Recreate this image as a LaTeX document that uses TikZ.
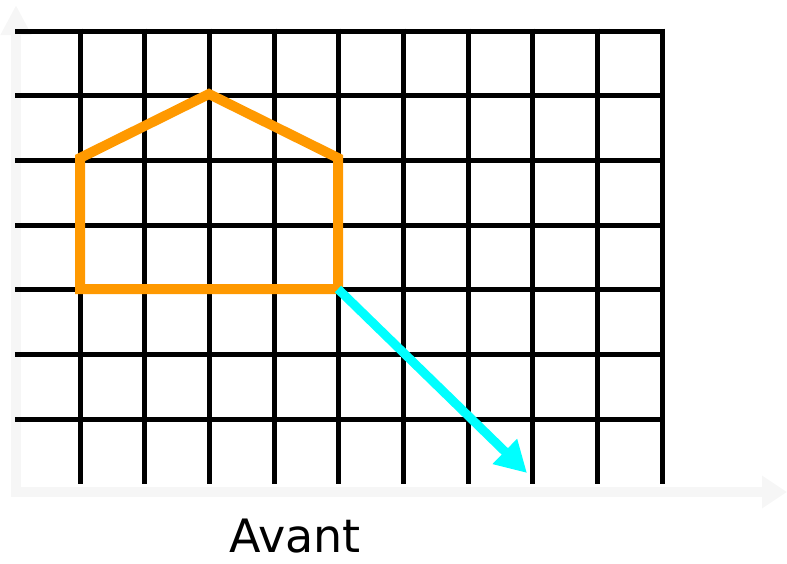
\documentclass[tikz,border=0pt]{standalone}
\usepackage{fontspec}
\setmainfont{DejaVu Sans}
\usetikzlibrary{arrows.meta, positioning, calc}
\definecolor{axisgray}{RGB}{246,246,246}
\definecolor{houseorange}{RGB}{255,153,0}
\definecolor{movecyan}{RGB}{0,255,255}

\begin{document}
\begin{tikzpicture}[x=1pt, y=-1pt]
  \useasboundingbox (0,0) rectangle (787,563);
  % Axes
  \draw[axisgray, line width=10pt, -{Triangle[length=30pt, width=29pt]}] (16,497) -- (16,5);
  \draw[axisgray, line width=10pt, -{Triangle[length=25pt, width=31pt]}] (11,492) -- (787,492);
  % Grid
  \foreach \j in {0,...,6}
    \draw[black, line width=5pt] (15,{31+64.67*\j}) -- (665,{31+64.67*\j});
  \foreach \i in {0,...,9}
    \draw[black, line width=5pt] ({80+64.67*\i},28.5) -- ({80+64.67*\i},484);
  % House
  \coordinate (bl) at (80,289);
  \coordinate (tl) at (80,158);
  \coordinate (top) at (209,94);
  \coordinate (tr) at (338,158);
  \coordinate (br) at (338,289);
  \draw[houseorange, line width=10pt] (bl) -- (tl) -- (top) -- (tr) -- (br) -- cycle;
  % Translation
  \coordinate (dest) at (527,473);
  \draw[movecyan, line width=9pt, -{Triangle[length=31pt, width=33pt]}] (br) -- (dest);
  % Label
  \node[anchor=base, inner sep=0pt] (avant) at (295,552) {\fontsize{46}{48}\selectfont Avant};
\end{tikzpicture}
\end{document}
